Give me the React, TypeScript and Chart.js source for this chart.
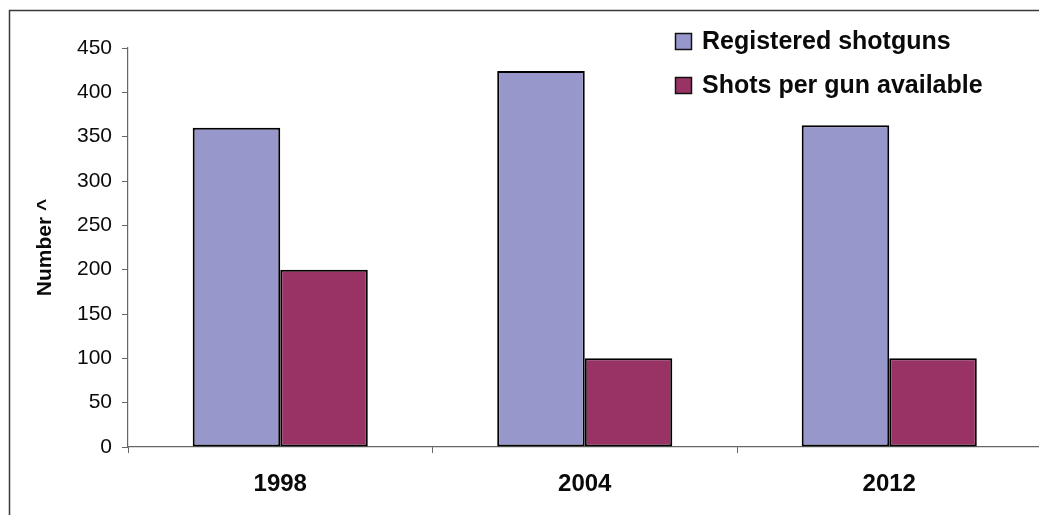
import React, { useEffect, useRef } from "react";
import { Chart, registerables } from "chart.js";

Chart.register(...registerables);

const categories = ["1998", "2004", "2012"];
const registeredShotguns = [360, 424, 363];
const shotsPerGun = [200, 100, 100];
const seriesLabels = ["Registered shotguns", "Shots per gun available"];
const seriesColors = ["#9797CC", "#993366"];
const yTitle = "Number ^";
const yMin = 0;
const yMax = 450;
const yStep = 50;

const FONT = "'Liberation Sans', Arial, sans-serif";

const framePlugin = {
  id: "frame",
  beforeDraw(chart: any) {
    const ctx = chart.ctx;
    ctx.save();
    ctx.fillStyle = "#ffffff";
    ctx.fillRect(0, 0, chart.width, chart.height);
    ctx.strokeStyle = "#3a3a3a";
    ctx.lineWidth = 1.5;
    ctx.strokeRect(9.5, 10.5, 3000, 3000);
    ctx.restore();
  },
};

const legendPlugin = {
  id: "customLegend",
  afterDraw(chart: any) {
    const ctx = chart.ctx;
    ctx.save();
    const x0 = 675;
    const rows = [41, 85];
    chart.data.datasets.forEach((ds: any, i: number) => {
      const cy = rows[i];
      ctx.fillStyle = ds.backgroundColor;
      ctx.fillRect(x0, cy - 8, 16, 16);
      ctx.strokeStyle = "#111";
      ctx.lineWidth = 1.5;
      ctx.strokeRect(x0 + 0.5, cy - 7.5, 16, 16);
      ctx.fillStyle = "#0a0a0a";
      ctx.font = `bold 25px ${FONT}`;
      ctx.textBaseline = "middle";
      ctx.textAlign = "left";
      ctx.fillText(ds.label, 702, cy + 1);
    });
    ctx.restore();
  },
};

export default function App() {
  const ref = useRef<HTMLCanvasElement | null>(null);

  useEffect(() => {
    if (!ref.current) return;
    const chart = new Chart(ref.current, {
      type: "bar",
      data: {
        labels: categories,
        datasets: [
          {
            label: seriesLabels[0],
            data: registeredShotguns,
            backgroundColor: seriesColors[0],
            borderColor: "#000",
            borderWidth: 2,
            borderSkipped: false,
          },
          {
            label: seriesLabels[1],
            data: shotsPerGun,
            backgroundColor: seriesColors[1],
            borderColor: "#000",
            borderWidth: 2,
            borderSkipped: false,
          },
        ],
      },
      options: {
        responsive: false,
        animation: false,
        devicePixelRatio: 1,
        layout: { padding: { top: 48, right: 3.5, left: 0, bottom: 0 } },
        datasets: { bar: { categoryPercentage: 0.575, barPercentage: 1 } },
        plugins: {
          legend: { display: false },
          tooltip: { enabled: false },
        },
        scales: {
          x: {
            type: "category",
            grid: {
              display: true,
              drawOnChartArea: false,
              tickLength: 6,
              color: "#666",
              offset: true,
            },
            border: { color: "#666", width: 1.2 },
            ticks: {
              color: "#0a0a0a",
              padding: 17,
              font: { family: FONT, size: 24, weight: "bold" },
            },
            afterFit: (s: any) => {
              s.height = 68;
            },
          },
          y: {
            min: yMin,
            max: yMax,
            ticks: {
              stepSize: yStep,
              color: "#0a0a0a",
              padding: 10,
              font: { family: FONT, size: 21 },
            },
            grid: {
              display: true,
              drawOnChartArea: false,
              tickLength: 6,
              color: "#666",
            },
            border: { color: "#666", width: 1.2 },
            title: {
              display: true,
              text: yTitle,
              color: "#0a0a0a",
              font: { family: FONT, size: 21, weight: "bold" },
              padding: { top: 33, bottom: 0 },
            },
            afterFit: (s: any) => {
              s.width = 128;
            },
          },
        },
      } as any,
      plugins: [framePlugin, legendPlugin],
    });
    return () => chart.destroy();
  }, []);

  return (
    <div
      style={{
        position: "fixed",
        left: 0,
        top: 0,
        width: 1039,
        height: 515,
        overflow: "hidden",
        background: "#fff",
      }}
    >
      <canvas ref={ref} width={1045} height={515} style={{ display: "block" }} />
    </div>
  );
}
